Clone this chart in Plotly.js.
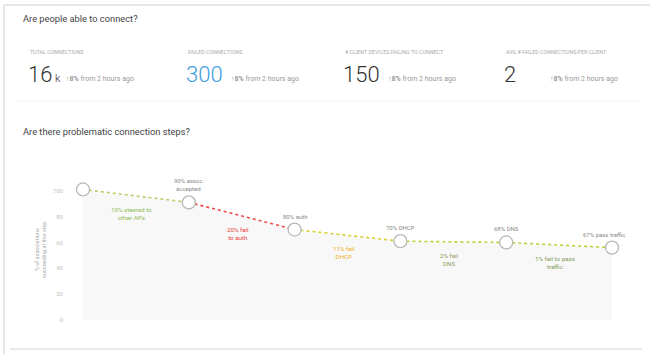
<!DOCTYPE html>
<html><head><meta charset="utf-8">
<script src="https://cdn.plot.ly/plotly-3.0.1.min.js"></script>
<style>html,body{margin:0;padding:0;background:#fff;}#chart{width:650px;height:354px;}</style>
</head><body><div id="chart"></div>
<script>
// ---- data ----
const steps = ["Start", "Association", "Authentication", "DHCP", "DNS", "Pass traffic"];
const stepValues = [101, 91, 70, 61, 60, 56];
const stepLabels = ["", "90% assoc<br>accepted", "80% auth", "70% DHCP", "68% DNS", "67% pass traffic"];
const dropLabels = ["10% steered to<br>other APs", "20% fail<br>to auth", "11% fail<br>DHCP", "2% fail<br>DNS", "1% fail to pass<br>traffic"];
const dropColors = ["#8fbf5a", "#e8403a", "#f0b020", "#8f9a5c", "#7f9c5a"];
const segColors = ["#b5cf6a", "#ef4a44", "#d6d22e", "#c3cf3a", "#c3cf3a"];
const yTicks = [0, 20, 40, 60, 80, 100];
const kpiNames = ["TOTAL CONNECTIONS", "FAILED CONNECTIONS", "# CLIENT DEVICES FAILING TO CONNECT", "AVG # FAILED CONNECTIONS PER CLIENT"];
const kpiValues = ["16", "300", "150", "2"];
const kpiUnits = ["k", "", "", ""];
const kpiChange = ["8%", "8%", "8%", "8%"];

// ---- layout helpers (pixel -> paper) ----
const L = 70, R = 625, T = 150, B = 322;
const px = x => (x - L) / (R - L);
const py = y => (B - y) / (B - T);
const xs = steps.map((s, i) => i);

const traces = [];
traces.push({x: xs, y: stepValues, type: 'scatter', mode: 'none', fill: 'tozeroy',
  fillcolor: 'rgba(0,0,0,0.028)', hoverinfo: 'skip', showlegend: false});
for (let i = 0; i < steps.length - 1; i++) {
  traces.push({x: [xs[i], xs[i+1]], y: [stepValues[i], stepValues[i+1]], type: 'scatter', mode: 'lines',
    line: {color: segColors[i], width: 1.6, dash: '3px,3px'}, showlegend: false, hoverinfo: 'skip'});
}
traces.push({x: xs, y: stepValues, type: 'scatter', mode: 'markers', text: steps,
  marker: {size: 13, color: '#fff', line: {color: '#b8b8b8', width: 1.3}}, showlegend: false});

const ann = [];
const font = "Roboto, 'Liberation Sans', sans-serif";
ann.push({xref:'paper', yref:'paper', x: px(21), y: py(18), xanchor:'left', yanchor:'middle', showarrow:false,
  text:'Are people able to connect?', font:{family:font, size:9.3, color:'#444'}});
ann.push({xref:'paper', yref:'paper', x: px(21), y: py(131), xanchor:'left', yanchor:'middle', showarrow:false,
  text:'Are there problematic connection steps?', font:{family:font, size:9.3, color:'#444'}});
const kx = [28, 186, 343, 504];
const cx = [64, 229, 386, 548];
for (let i = 0; i < 4; i++) {
  ann.push({xref:'paper', yref:'paper', x: px(kx[i]), y: py(52), xanchor:'left', yanchor:'middle', showarrow:false,
    text: kpiNames[i], font:{family:font, size:5.3, color:'#aaa'}});
  const unit = kpiUnits[i] ? "<span style='font-size:11px'> " + kpiUnits[i] + "</span>" : "";
  ann.push({xref:'paper', yref:'paper', x: px(kx[i]-2), y: py(75), xanchor:'left', yanchor:'middle', showarrow:false,
    text: kpiValues[i] + unit, font:{family:font, size:22, weight:300, color: i === 1 ? '#3d9be0' : '#333'}});
  ann.push({xref:'paper', yref:'paper', x: px(cx[i]), y: py(79), xanchor:'left', yanchor:'middle', showarrow:false,
    text: "<b>↑" + kpiChange[i] + "</b> from 2 hours ago", font:{family:font, size:7, color:'#999'}});
}
for (let i = 1; i < steps.length; i++) {
  ann.push({x: xs[i], y: stepValues[i], xref:'x', yref:'y', showarrow:false, yanchor:'bottom', yshift: 8,
    xshift: i === steps.length - 1 ? -8 : 0,
    text: stepLabels[i], font:{family:font, size:6, color:'#888'}});
}
for (let i = 0; i < dropLabels.length; i++) {
  ann.push({x: (xs[i] + xs[i+1]) / 2, y: (stepValues[i] + stepValues[i+1]) / 2, xref:'x', yref:'y', showarrow:false,
    yanchor:'top', yshift: -8, xshift: -4, text: dropLabels[i], font:{family:font, size:6.2, color: dropColors[i]}});
}
ann.push({xref:'paper', yref:'paper', x: px(40), y: py(250), xanchor:'center', yanchor:'middle', showarrow:false,
  textangle:-90, text:'% of associations<br>succeeding at this step', font:{family:font, size:5.5, color:'#aaa'}});

const shapes = [
  {type:'line', xref:'paper', yref:'paper', x0: px(4), x1: px(4), y0: py(5), y1: py(354), line:{color:'#d0d0d0', width:1}},
  {type:'line', xref:'paper', yref:'paper', x0: px(4), x1: px(650), y0: py(5), y1: py(5), line:{color:'#d0d0d0', width:1}},
  {type:'line', xref:'paper', yref:'paper', x0: px(15), x1: px(640), y0: py(101), y1: py(101), line:{color:'#f0f0f0', width:1}},
  {type:'line', xref:'paper', yref:'paper', x0: px(10), x1: px(642), y0: py(349), y1: py(349), line:{color:'#e2e2e2', width:1.5}}
];

const layout = {
  width: 650, height: 354,
  margin: {l: L, r: 650 - R, t: T, b: 354 - B},
  paper_bgcolor: '#fff', plot_bgcolor: 'rgba(0,0,0,0)',
  xaxis: {range: [-0.123, 5.123], showgrid:false, zeroline:false, showticklabels:false, showline:false, fixedrange:true},
  yaxis: {range: [-1.5, 131.5], tickvals: yTicks, showgrid:false, zeroline:false, showline:false,
    ticklabelstandoff: 6, tickfont:{family:font, size:6, color:'#c0c0c0'}, fixedrange:true},
  annotations: ann, shapes: shapes, showlegend:false
};
Plotly.newPlot('chart', traces, layout, {displayModeBar:false, staticPlot:true});
</script></body></html>
